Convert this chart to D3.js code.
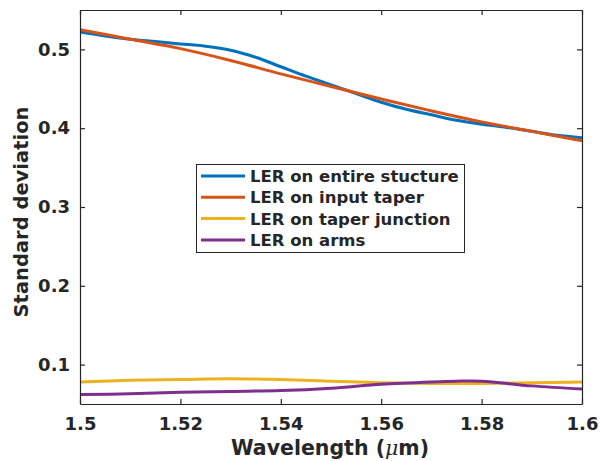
<!DOCTYPE html>
<html><head><meta charset="utf-8">
<script src="https://cdn.jsdelivr.net/npm/d3@7"></script>
<style>body{margin:0;background:#fff}svg{display:block}text{font-family:"DejaVu Sans",sans-serif;font-weight:bold;fill:#262626}</style>
</head><body><svg id="c" width="600" height="461"></svg>
<script>
const seriesNames = ["LER on entire stucture","LER on input taper","LER on taper junction","LER on arms"];
const seriesColors = ["#0072BD","#D95319","#EDB120","#7E2F8E"];
const entireX = [1.500,1.505,1.510,1.515,1.520,1.525,1.530,1.535,1.540,1.545,1.550,1.555,1.560,1.565,1.570,1.575,1.580,1.585,1.590,1.595,1.600];
const entireY = [0.522,0.517,0.513,0.510,0.507,0.504,0.499,0.490,0.478,0.466,0.455,0.444,0.433,0.424,0.417,0.410,0.405,0.401,0.396,0.391,0.388];
const inputX = [1.50,1.51,1.52,1.53,1.54,1.55,1.56,1.57,1.58,1.59,1.60];
const inputY = [0.525,0.513,0.501,0.486,0.469,0.453,0.437,0.422,0.408,0.396,0.384];
const junctionX = [1.50,1.51,1.52,1.53,1.54,1.55,1.56,1.57,1.58,1.59,1.60];
const junctionY = [0.078,0.080,0.081,0.082,0.081,0.079,0.077,0.076,0.076,0.077,0.078];
const armsX = [1.50,1.51,1.52,1.53,1.54,1.55,1.56,1.57,1.575,1.58,1.59,1.60];
const armsY = [0.062,0.063,0.065,0.066,0.067,0.070,0.075,0.078,0.079,0.079,0.073,0.069];
const xTicks = [1.5,1.52,1.54,1.56,1.58,1.6];
const yTicks = [0.1,0.2,0.3,0.4,0.5];

const svg = d3.select("#c");
const L=80,R=582,T=10,B=404;
const x = d3.scaleLinear().domain([1.5,1.6]).range([L,R]);
const y = d3.scaleLinear().domain([0.05,0.55]).range([B,T]);

const data = [[entireX,entireY],[inputX,inputY],[junctionX,junctionY],[armsX,armsY]];
const line = d3.line().x(d=>x(d[0])).y(d=>y(d[1])).curve(d3.curveCatmullRom.alpha(0.5));
const plot = svg.append("g");
plot.append("defs").append("clipPath").attr("id","cp").append("rect").attr("x",L).attr("y",T).attr("width",R-L).attr("height",B-T);
data.forEach((s,i)=>{
  const pts = s[0].map((v,j)=>[v,s[1][j]]);
  plot.append("path").attr("d",line(pts)).attr("fill","none").attr("stroke",seriesColors[i]).attr("stroke-width",3).attr("clip-path","url(#cp)");
});

const fmtX = d=>d3.format("")(+d.toFixed(2));
const axB = svg.append("g").attr("transform",`translate(0,${B})`).call(d3.axisBottom(x).tickValues(xTicks).tickSizeInner(-5).tickSizeOuter(0).tickPadding(13).tickFormat(fmtX));
const axT = svg.append("g").attr("transform",`translate(0,${T})`).call(d3.axisTop(x).tickValues(xTicks).tickSizeInner(-5).tickSizeOuter(0).tickFormat(""));
const axL = svg.append("g").attr("transform",`translate(${L},0)`).call(d3.axisLeft(y).tickValues(yTicks).tickSizeInner(-5).tickSizeOuter(0).tickPadding(10).tickFormat(d=>d.toFixed(1)));
const axR = svg.append("g").attr("transform",`translate(${R},0)`).call(d3.axisRight(y).tickValues(yTicks).tickSizeInner(-5).tickSizeOuter(0).tickFormat(""));
[axB,axT,axL,axR].forEach(a=>{
  a.selectAll(".domain").attr("stroke","#262626").attr("stroke-width",1.2);
  a.selectAll(".tick line").attr("stroke","#262626").attr("stroke-width",1.2);
  a.selectAll("text").attr("font-family","DejaVu Sans").attr("font-weight","bold").attr("font-size",18).attr("fill","#262626");
});
svg.append("text").attr("x",330).attr("y",455).attr("text-anchor","middle").attr("font-size",20.5)
  .html('Wavelength (<tspan font-style="italic" font-weight="normal" font-family="DejaVu Serif">μ</tspan>m)');
svg.append("text").attr("transform",`translate(28,212) rotate(-90)`).attr("text-anchor","middle").attr("font-size",19.5).text("Standard deviation");

const lg = svg.append("g");
lg.append("rect").attr("x",196.5).attr("y",164.5).attr("width",268).attr("height",88).attr("fill","#fff").attr("stroke","#262626").attr("stroke-width",1);
seriesNames.forEach((n,i)=>{
  const yy = 176 + i*21.3;
  lg.append("line").attr("x1",201).attr("x2",245).attr("y1",yy).attr("y2",yy).attr("stroke",seriesColors[i]).attr("stroke-width",3);
  lg.append("text").attr("x",250).attr("y",yy).attr("dy","0.36em").attr("font-size",16.5).text(n);
});
</script></body></html>
